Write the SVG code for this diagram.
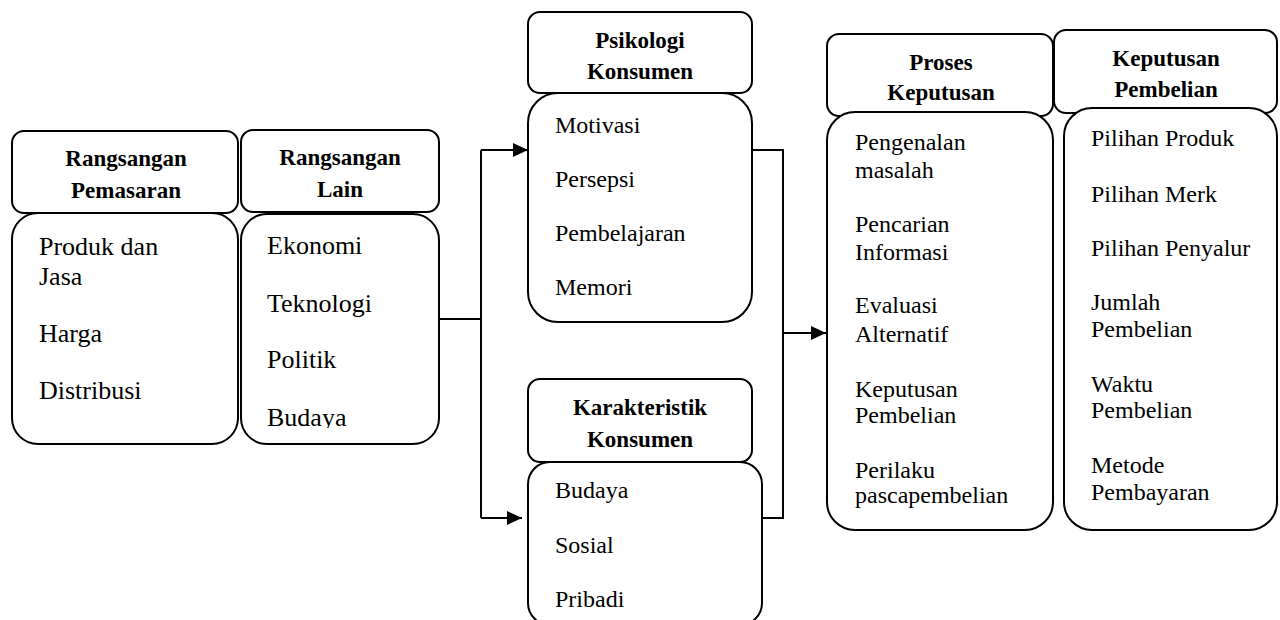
<svg xmlns="http://www.w3.org/2000/svg" width="1280" height="620" viewBox="0 0 1280 620">
<style>
.box{fill:#fff;stroke:#000;stroke-width:2}
.h{font-family:"Liberation Serif","Times New Roman",serif;font-weight:bold;font-size:23px;fill:#000;text-anchor:middle}
.t{font-family:"Liberation Serif","Times New Roman",serif;font-size:24px;fill:#000}
.t26{font-family:"Liberation Serif","Times New Roman",serif;font-size:26px;fill:#000}
.ln{fill:none;stroke:#000;stroke-width:2}
</style>
<defs>
<marker id="arr" markerUnits="userSpaceOnUse" markerWidth="17" markerHeight="15" refX="15" refY="7" orient="auto">
<path d="M0,0 L15,7 L0,14 Z" fill="#000"/>
</marker>
<clipPath id="clipLain"><rect x="241" y="214" width="198" height="214"/></clipPath>
</defs>
<g id="connectors">
<path class="ln" d="M439,319 H481"/>
<path class="ln" d="M481,150 V518"/>
<path class="ln" d="M481,150 H528" marker-end="url(#arr)"/>
<path class="ln" d="M481,518 H522" marker-end="url(#arr)"/>
<path class="ln" d="M752,150 H783 V518 H762"/>
<path class="ln" d="M783,333 H826" marker-end="url(#arr)"/>
</g>
<g id="rangsangan-pemasaran">
<rect class="box" x="12" y="131" width="226" height="82" rx="12"/>
<text class="h" x="126" y="166">Rangsangan</text>
<text class="h" x="126" y="198">Pemasaran</text>
<rect class="box" x="12" y="213" width="226" height="231" rx="26"/>
<text class="t26" x="39" y="255">Produk dan</text>
<text class="t26" x="39" y="285">Jasa</text>
<text class="t26" x="39" y="342">Harga</text>
<text class="t26" x="39" y="399">Distribusi</text>
</g>
<g id="rangsangan-lain">
<rect class="box" x="241" y="130" width="198" height="82" rx="12"/>
<text class="h" x="340" y="165">Rangsangan</text>
<text class="h" x="340" y="197">Lain</text>
<rect class="box" x="241" y="214" width="198" height="230" rx="26"/>
<g clip-path="url(#clipLain)">
<text class="t26" x="267" y="254">Ekonomi</text>
<text class="t26" x="267" y="312">Teknologi</text>
<text class="t26" x="267" y="368">Politik</text>
<text class="t26" x="267" y="426">Budaya</text>
</g>
</g>
<g id="psikologi-konsumen">
<rect class="box" x="528" y="12" width="224" height="81" rx="12"/>
<text class="h" x="640" y="48">Psikologi</text>
<text class="h" x="640" y="79">Konsumen</text>
<rect class="box" x="528" y="93" width="224" height="229" rx="30"/>
<text class="t" x="555" y="133">Motivasi</text>
<text class="t" x="555" y="187">Persepsi</text>
<text class="t" x="555" y="241">Pembelajaran</text>
<text class="t" x="555" y="295">Memori</text>
</g>
<g id="karakteristik-konsumen">
<rect class="box" x="528" y="379" width="224" height="83" rx="12"/>
<text class="h" x="640" y="415">Karakteristik</text>
<text class="h" x="640" y="447">Konsumen</text>
<rect class="box" x="528" y="462" width="234" height="163" rx="22"/>
<text class="t" x="555" y="498">Budaya</text>
<text class="t" x="555" y="553">Sosial</text>
<text class="t" x="555" y="607">Pribadi</text>
</g>
<g id="proses-keputusan">
<rect class="box" x="827" y="34" width="226" height="82" rx="12"/>
<text class="h" x="941" y="70">Proses</text>
<text class="h" x="941" y="100">Keputusan</text>
<rect class="box" x="827" y="112" width="226" height="418" rx="28"/>
<text class="t" x="855" y="150">Pengenalan</text>
<text class="t" x="855" y="178">masalah</text>
<text class="t" x="855" y="232">Pencarian</text>
<text class="t" x="855" y="260">Informasi</text>
<text class="t" x="855" y="313">Evaluasi</text>
<text class="t" x="855" y="342">Alternatif</text>
<text class="t" x="855" y="397">Keputusan</text>
<text class="t" x="855" y="423">Pembelian</text>
<text class="t" x="855" y="478">Perilaku</text>
<text class="t" x="855" y="503">pascapembelian</text>
</g>
<g id="keputusan-pembelian">
<rect class="box" x="1054" y="30" width="223" height="83" rx="12"/>
<text class="h" x="1166" y="66">Keputusan</text>
<text class="h" x="1166" y="97">Pembelian</text>
<rect class="box" x="1064" y="108" width="213" height="422" rx="28"/>
<text class="t" x="1091" y="146">Pilihan Produk</text>
<text class="t" x="1091" y="202">Pilihan Merk</text>
<text class="t" x="1091" y="256">Pilihan Penyalur</text>
<text class="t" x="1091" y="310">Jumlah</text>
<text class="t" x="1091" y="337">Pembelian</text>
<text class="t" x="1091" y="392">Waktu</text>
<text class="t" x="1091" y="418">Pembelian</text>
<text class="t" x="1091" y="473">Metode</text>
<text class="t" x="1091" y="500">Pembayaran</text>
</g>
</svg>
